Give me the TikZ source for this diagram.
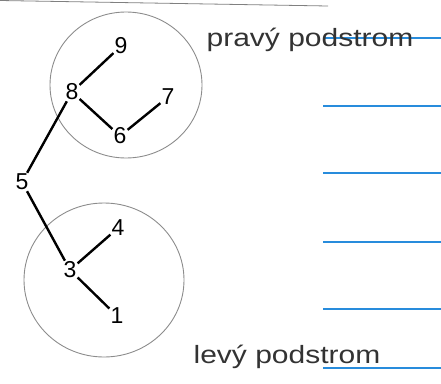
\documentclass[tikz,border=0pt]{standalone}
\usepackage{fontspec}
\setmainfont{Liberation Sans}
\begin{document}
\begin{tikzpicture}[x=1pt,y=-1pt,
  num/.style={inner sep=1pt,font=\fontsize{23}{23}\selectfont},
  edge/.style={line width=2.4pt,black},
  ring/.style={draw=black!45,line width=0.9pt},
  rule/.style={draw={rgb,255:red,40;green,140;blue,220},line width=1.6pt},
  hand/.style={text=black!80,font=\fontsize{25}{25}\selectfont,xscale=1.2,inner sep=0pt}]
\useasboundingbox (0,0) rectangle (441,383);
% paper lines
\draw[black!50,line width=0.8pt] (0,0.5) -- (328,6);
\foreach \yy in {38,106,173,242,309,368}
  \draw[rule] (323,\yy) -- (441,\yy);
% subtree rings
\draw[ring] (126,85) ellipse [x radius=76, y radius=73];
\draw[ring] (104,280) ellipse [x radius=80, y radius=77];
% nodes
\node[num] (n9) at (121,46) {9};
\node[num] (n8) at (72,92) {8};
\node[num] (n7) at (168,97) {7};
\node[num] (n6) at (120,136) {6};
\node[num] (n5) at (22,182) {5};
\node[num] (n4) at (118,228) {4};
\node[num] (n3) at (70,270) {3};
\node[num] (n1) at (117,316) {1};
% edges
\draw[edge] (n5) -- (n8);
\draw[edge] (n8) -- (n9);
\draw[edge] (n8) -- (n6);
\draw[edge] (n6) -- (n7);
\draw[edge] (n5) -- (n3);
\draw[edge] (n3) -- (n4);
\draw[edge] (n3) -- (n1);
% labels
\node[hand] (pr) at (310,40) {pravý podstrom};
\node[hand] (lv) at (287,357) {levý podstrom};
\end{tikzpicture}
\end{document}
